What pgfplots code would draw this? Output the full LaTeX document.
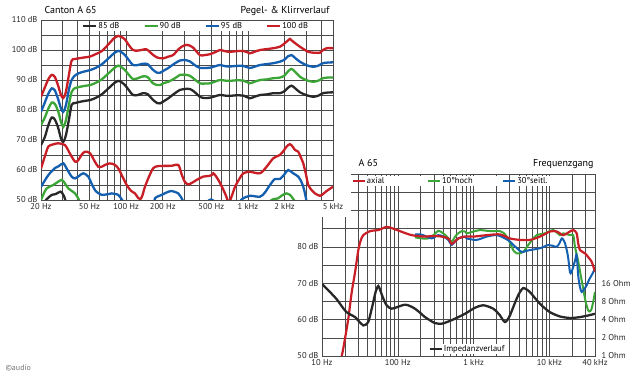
\documentclass[border=0pt]{standalone}
\usepackage{pgfplots}
\pgfplotsset{compat=1.18}
\usepackage{fontspec}
\setmainfont{PT Sans}
\definecolor{cRed}{RGB}{200,30,38}
\definecolor{cBlue}{RGB}{20,95,175}
\definecolor{cGreen}{RGB}{60,165,55}
\definecolor{cBlack}{RGB}{40,40,40}
\definecolor{cGrid}{RGB}{75,75,75}
\pgfplotsset{
  chartbase/.style={
    scale only axis,
    clip mode=individual,
    /pgf/number format/assume math mode=true,
    tick style={draw=none},
    grid=major,
    major grid style={cGrid, line width=0.55pt},
    axis line style={cGrid, line width=0.7pt},
    ticklabel style={font=\fontsize{8.5}{10}\selectfont, text=black!85},
    minor x tick num=0,
  },
}
\begin{document}
\begin{tikzpicture}
\useasboundingbox (0,0) rectangle (635pt,377pt);
% ================= bottom chart: Frequenzgang =================
\begin{axis}[xmode=log, chartbase,
  at={(322pt,21pt)}, anchor=south west,
  width=273pt, height=182pt,
  xmin=10, xmax=40000, ymin=50, ymax=100,
  xtick={10,20,30,40,50,60,70,80,90,100,200,300,400,500,600,700,800,900,1000,2000,3000,4000,5000,6000,7000,8000,9000,10000,20000,30000,40000},
  xticklabels={10 Hz,{},{},{},{},{},{},{},{},100 Hz,{},{},{},{},{},{},{},{},1 kHz,{},{},{},{},{},{},{},{},10 kHz,{},{},40 kHz},
  ytick={50,55,60,65,70,75,80,85,90,95,100},
  yticklabels={50 dB,{},60 dB,{},70 dB,{},80 dB,{},90 dB,{},100 dB},
  legend columns=3,
  legend style={at={(0.108,0.99)}, anchor=north west, draw=none, fill=none,
    inner sep=0pt, font=\fontsize{8.5}{10}\selectfont,
    nodes={fill=white, inner sep=1pt},
    /tikz/every even column/.append style={column sep=3pt}},
  legend cell align=left,
  legend image code/.code={\draw[#1, line width=2.2pt] (0pt,0pt) -- (12pt,0pt);},
]
\addlegendimage{cRed}\addlegendentry{\makebox[56pt][l]{axial}}
\addlegendimage{cGreen}\addlegendentry{\makebox[56pt][l]{10°hoch}}
\addlegendimage{cBlue}\addlegendentry{\makebox[40pt][l]{30°seitl.}}
% 10 deg hoch
\addplot[cGreen, line width=2pt, smooth, forget plot] coordinates {
(168.6,82.6)(206.7,82.3)(252.6,82.3)(300,83.3)(342,84.4)(398,83.7)(460,82.5)(514,81.4)(570,82.8)(628,83.7)(700,84.3)(771,84.2)(811,83.7)(1000,84.2)(1215,84.6)(1500,84.4)(1820,84.3)(2230,84.3)(2500,83.8)(2734,82.8)(3000,81.2)(3183,80)(3400,78.8)(3706,78.2)(4100,78.2)(4529,78.6)(5272,80.5)(6000,82)(6805,83.2)(8750,83.7)(11270,84.6)(13800,83.2)(15240,83.7)(18700,83.2)(20660,83.2)(21780,80)(24050,76)(26000,72)(28000,68.5)(30000,65)(32580,62.5)(34500,62.3)(36130,63)(38000,65)(40000,67.6)
};
% 30 deg seitl
\addplot[cBlue, line width=2pt, smooth, forget plot] coordinates {
(168.6,83.4)(200,83.4)(228.4,83)(280,82.3)(342,83.2)(400,82.8)(463,81.9)(514,80.5)(570,81.5)(628,82.3)(771,82.8)(811,82.3)(1099,81.9)(1489,82.8)(2018,83.2)(2595,82.3)(3000,81.5)(3342,80.5)(3800,79.5)(4313,78.6)(5546,79.1)(7516,79.6)(9683,80.5)(11000,80.3)(12490,80)(13600,81)(14530,82.3)(15200,82)(16070,81)(17000,79)(17750,76.8)(18700,73)(19500,73)(20660,74.5)(22000,76.5)(22910,77.7)(24050,72)(25300,69)(26680,67.6)(28500,68.2)(31000,69.4)(33500,71)(36130,72.2)(40000,74)
};
% axial
\addplot[cRed, line width=2.2pt, smooth, forget plot] coordinates {
(15,44)(18.2,50)(20,54.5)(22.2,60.2)(24.7,67.6)(27.3,73)(30.1,79)(32.5,81.8)(35.1,83.2)(43,84.3)(55.3,84.6)(65,85.2)(71.4,85.5)(87.2,85)(106.9,84.3)(152.5,83.2)(228.4,82.8)(294,83)(379,82.8)(463,82.3)(514,80.8)(570,81.5)(628,82.3)(771,82.8)(991,82.8)(1489,83.2)(2230,83.4)(3020,82.3)(4095,81.9)(5546,81.9)(7516,82.8)(10190,84.2)(12490,84.2)(15240,83.2)(18000,84)(20660,84.6)(22910,83.7)(24000,81)(25350,79.1)(29510,78.2)(33000,77)(36130,75.9)(40000,73.2)
};
\node[anchor=base west, font=\fontsize{10}{12}\selectfont, yshift=7pt] at (rel axis cs:0.121,1) {A 65};
\node[anchor=base east, font=\fontsize{10}{12}\selectfont, yshift=7pt, xshift=2pt] at (rel axis cs:1,1) {Frequenzgang};
\end{axis}
% impedance axis (right)
\begin{axis}[xmode=log, ymode=log, log basis y=2,
  scale only axis,
  at={(322pt,21pt)}, anchor=south west,
  width=273pt, height=182pt,
  xmin=10, xmax=40000, ymin=1, ymax=1024,
  axis x line=none, axis y line*=right,
  y axis line style={draw=none},
  tick style={draw=none},
  ytick={1,2,4,8,16},
  yticklabels={1 Ohm,2 Ohm,4 Ohm,8 Ohm,16 Ohm},
  yticklabel style={font=\fontsize{8.5}{10}\selectfont, text=black!85, xshift=3pt},
  legend style={at={(0.39,0.012)}, anchor=south west, draw=none, fill=none,
    inner sep=0pt, font=\fontsize{8.5}{10}\selectfont,
    nodes={fill=white, inner sep=1pt}},
  legend image code/.code={\draw[#1, line width=2.2pt] (0pt,0pt) -- (12pt,0pt);},
]
\addplot[cBlack, line width=2.3pt, smooth] coordinates {
(10,15.5)(11.5,13)(13.4,10.7)(15.5,8.8)(17.3,7.3)(19,6.2)(21.2,5.3)(24,4.8)(27.3,4.4)(31,3.7)(35.1,3.2)(38,3.3)(40.8,3.65)(44,5.2)(47.5,7.8)(51,11.5)(55.3,14.4)(59,12)(64.4,8.9)(72,6.8)(83.1,6.06)(100,6.5)(124.5,7.06)(145,6.7)(168.6,6.06)(200,5.1)(228.4,4.4)(270,3.85)(309.5,3.5)(379.3,3.42)(460,3.7)(568.6,4.14)(770.6,5.0)(991,6.06)(1150,6.6)(1343,6.9)(1550,6.6)(1820,6.06)(2050,5.3)(2230,4.7)(2420,4.0)(2595,3.65)(2780,3.9)(3020,4.7)(3300,6.2)(3706,8.9)(4100,11.5)(4529,13.3)(5000,12.6)(5546,11.4)(6400,9.2)(7516,7.3)(8800,6.1)(10190,5.3)(12000,4.8)(13800,4.5)(18700,4.25)(25350,4.4)(33000,4.7)(40000,5.0)
};
\addlegendentry{Impedanzverlauf}
\end{axis}
% the top chart lies over the corner of the lower one
\fill[white] (0pt,160pt) rectangle (351pt,377pt);
% ================= top chart: Pegel- & Klirrverlauf =================
\begin{axis}[xmode=log, chartbase,
  at={(41pt,177pt)}, anchor=south west,
  width=292pt, height=180pt,
  xmin=20, xmax=5000, ymin=50, ymax=110,
  xtick={20,30,40,50,60,70,80,90,100,200,300,400,500,600,700,800,900,1000,2000,3000,4000,5000},
  xticklabels={20 Hz,{},{},50 Hz,{},{},{},{},100 Hz,200 Hz,{},{},500 Hz,{},{},{},{},1 kHz,2 kHz,{},{},5 kHz},
  ytick={50,55,60,65,70,75,80,85,90,95,100,105,110},
  yticklabels={50 dB,{},60 dB,{},70 dB,{},80 dB,{},90 dB,{},100 dB,{},110 dB},
  legend columns=4,
  legend style={at={(0.14,0.995)}, anchor=north west, draw=none, fill=none,
    inner sep=0pt, font=\fontsize{8.5}{10}\selectfont,
    nodes={fill=white, inner sep=1pt},
    /tikz/every even column/.append style={column sep=4pt}},
  legend cell align=left,
  legend image code/.code={\draw[#1, line width=2.3pt] (0pt,0pt) -- (13pt,0pt);},
]
\addplot[cBlack, line width=2.3pt, smooth] coordinates {
(20,68.3)(21.5,71)(23,75)(24.5,77.5)(26,76.8)(27.7,74)(29.2,70.5)(30.5,69.4)(32,71.5)(34,77)(35.7,81.7)(38,82.3)(40.5,82.6)(45,83)(50.5,83.3)(56,84)(63,85.2)(72,87.3)(80,89)(86.3,89.7)(92,89.2)(97.9,88.3)(105,86.7)(113.8,85)(125,85)(137,85.6)(150,85.3)(165,83.5)(180,82.3)(190,82.2)(205,83)(222,83.9)(250,85.5)(276.8,86.7)(300,87)(334,87)(365,86)(403.7,84.4)(440,84)(488,84.1)(540,84.6)(590,85)(650,84.8)(712,84.7)(800,84.9)(917,84.8)(980,84.3)(1040,83.9)(1150,84.5)(1256,85)(1430,85.2)(1615,85.6)(1833,85.6)(2000,86.3)(2150,87.5)(2285,88.1)(2450,87.2)(2675,85.9)(3000,85)(3423,84.4)(3800,84.8)(4134,85.6)(4500,85.8)(5000,85.9)
};
\addlegendentry{\makebox[40pt][l]{85 dB}}
\addplot[cGreen, line width=2.3pt, smooth] coordinates {
(20,75)(21.5,77.5)(23,80.5)(24.5,82.5)(26,82)(27.7,79.5)(29.2,76)(30.5,74.4)(32,76.5)(34,82)(35.7,86)(38,87.3)(40.5,87.6)(45,88)(50.5,88.3)(56,89)(63,90.2)(72,92.3)(80,94)(86.3,94.8)(92,94.2)(97.9,93.3)(105,91.8)(113.8,90.3)(125,90.6)(137,91.2)(150,91)(165,89)(180,88.3)(190,88.3)(205,89)(222,89.4)(250,90.5)(276.8,91.7)(300,91.8)(334,91.4)(365,90.2)(403.7,88.9)(440,88.8)(488,88.9)(540,89.5)(590,90)(650,89.8)(712,89.7)(800,89.9)(917,89.8)(980,89.3)(1040,88.9)(1150,89.5)(1256,90)(1430,90.2)(1615,90.6)(1833,90.8)(2000,91.5)(2150,93)(2285,93.7)(2450,92.7)(2675,91.1)(3000,90)(3423,89.4)(3800,89.8)(4134,90.6)(4500,90.8)(5000,90.8)
};
\addlegendentry{\makebox[40pt][l]{90 dB}}
\addplot[cBlue, line width=2.3pt, smooth] coordinates {
(20,79.4)(21.5,82.5)(23,85.5)(24.5,87.2)(26,86.5)(27.7,83.5)(29.2,80.5)(30.5,79.4)(32,81.5)(34,87)(35.7,90)(38,91.5)(40.5,92.2)(45,92.8)(50.5,93.3)(56,94)(63,95.2)(72,97.3)(80,99)(86.3,99.7)(92,99.2)(97.9,98.3)(105,96.7)(113.8,95)(125,95)(137,95.4)(150,95.3)(165,93.5)(180,92.4)(190,92.4)(205,93.2)(222,94)(250,95.5)(276.8,96.5)(300,96.7)(334,96.2)(365,95)(403.7,94)(440,94)(488,94.1)(540,94.6)(590,95)(650,94.6)(712,94.5)(800,94.7)(917,94.7)(980,94.3)(1040,94)(1150,94.5)(1256,95)(1430,95.3)(1615,95.6)(1833,96.1)(2000,96.8)(2150,98)(2285,98.3)(2450,97.3)(2675,96.1)(3000,95)(3423,94.4)(3800,94.8)(4134,95.6)(4500,95.8)(5000,95.9)
};
\addlegendentry{\makebox[40pt][l]{95 dB}}
\addplot[cRed, line width=2.3pt, smooth] coordinates {
(20,84.4)(21.5,87.5)(23,90.3)(24.5,91.7)(26,91)(27.7,88)(29.2,85)(30.5,84)(32,86)(34,92)(35.7,96.5)(38,97)(40.5,97.2)(45,97.5)(50.5,97.8)(56,98.6)(63,99.6)(72,102)(80,104)(86.3,104.7)(92,104.3)(97.9,103.5)(105,101.7)(113.8,100)(125,99.8)(137,100.1)(147.5,100.2)(165,98.5)(180,97.5)(200.9,97.2)(222,97.8)(242.7,98.3)(270,100.3)(285.9,101.1)(314,101.7)(350,101)(403.7,98.3)(440,98.3)(488,98.6)(540,99.3)(590,100)(650,99.6)(712,99.4)(800,99.6)(917,99.7)(980,99.3)(1040,98.9)(1150,99.5)(1256,100)(1430,100.3)(1615,100.6)(1833,101.1)(2000,102.2)(2150,103.3)(2213,103.7)(2350,102.8)(2675,101.1)(3134,99.4)(3500,99.1)(3909,99.1)(4134,100)(4434,100.6)(5000,100.6)
};
\addlegendentry{\makebox[30pt][l]{100 dB}}
% distortion curves
\addplot[cRed, line width=2.3pt, smooth, forget plot] coordinates {
(20,60.5)(21.5,64.5)(22.96,67.8)(25,68.5)(27.7,68.9)(31.5,68.3)(34,66)(38,62.8)(40.5,63.3)(43,65)(45.9,66.1)(50.5,65.6)(55,63)(59,61.1)(63,61.1)(68,61.8)(73.7,62.2)(81,61.7)(87,60.3)(92,58.3)(101.1,55)(110,53)(118.2,52.2)(125.9,50.6)(131,50.3)(136,51.5)(142.8,54.4)(155,58)(167.1,60.6)(183.6,61.3)(236.6,61.4)(268.1,61.7)(286,58.5)(304,56)(324,55.2)(350,55.8)(380,56.7)(430,57.8)(480,58)(504,58.3)(520,58.9)(540,58.2)(572,56.7)(610,54.5)(649,52.2)(690,49.4)(700,49)(740,51.5)(784,54.4)(850,57)(917,58.9)(1040,59.4)(1256,58.9)(1426,61.1)(1615,63.9)(1833,65)(1950,66.2)(2080,67.8)(2213,68.6)(2330,67.8)(2433,66.7)(2593,66.1)(2700,64.5)(2851,62.2)(3000,58.5)(3134,55)(3350,53.2)(3557,52.2)(3909,51.4)(4200,52.2)(4434,53)(5000,54.4)
};
\addplot[cBlue, line width=2.3pt, smooth, forget plot] coordinates {
(20,54.4)(21.5,56.5)(22.96,58.3)(24.5,59.6)(26,60.6)(28,61.3)(30.5,62.2)(33,60)(35.7,57.8)(38,57.2)(41,58)(44.5,58.9)(48.9,57.8)(52,55.5)(55.5,53.3)(59,52.3)(63,51.7)(70,51.9)(76.1,52.2)(86.3,51.7)(90,50.8)(94.3,49.5)(97,48)(130,46)(165,48.5)(172.6,50.6)(185,51.3)(195.9,51.7)(215,52.5)(236.6,53)(268.1,52.2)(282,51)(294.5,49.5)(305,48)(420,48)(480,49.9)(500,50.2)(520,49.8)(580,48)(800,48)(850,49)(880,50)(916.6,50.6)(1040,51.4)(1256,51.1)(1380,52.5)(1517,55)(1668,57)(1833,57)(1990,58.5)(2143,60)(2355,58.9)(2593,57.8)(2720,56.5)(2851,54.4)(2950,52)(3036,49.5)(3150,47)
};
\addplot[cGreen, line width=2.3pt, smooth, forget plot] coordinates {
(20,50)(21,52)(22.3,53.9)(25.2,55)(27,55.8)(29.6,56.7)(31.5,55.5)(33.5,53.9)(38,52.2)(40.5,50.5)(42,49)(44,48)(1450,48)(1517,49.5)(1620,50.3)(1760,50.5)(1900,51.5)(2080,52.2)(2200,51.8)(2285,51.1)(2433,49.5)(2550,48)
};
\addplot[cBlack, line width=2.3pt, smooth, forget plot] coordinates {
(20,47)(21,48.8)(22.3,50.3)(24.5,51.7)(26.5,52)(29,52.8)(30.5,51.7)(31.5,50.3)(33,47)
};
\node[anchor=base west, font=\fontsize{10}{12}\selectfont, yshift=7pt] at (rel axis cs:0,1) {Canton A 65};
\node[anchor=base east, font=\fontsize{10}{12}\selectfont, yshift=7pt] at (rel axis cs:1,1) {Pegel- \& Klirrverlauf};
\end{axis}
\node[anchor=base west, font=\fontsize{8}{9}\selectfont, text=black!55] at (2pt,6pt) {©audio};
\end{tikzpicture}
\end{document}
